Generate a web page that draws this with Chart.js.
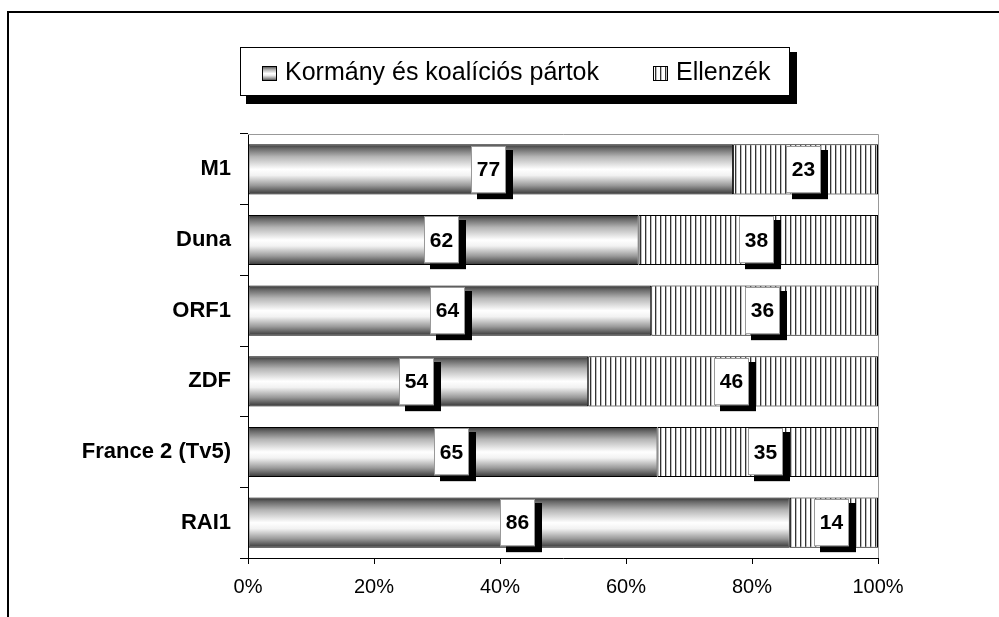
<!DOCTYPE html>
<html>
<head>
<meta charset="utf-8">
<script src="https://cdn.jsdelivr.net/npm/chart.js@4/dist/chart.umd.min.js"></script>
<style>
  html, body { margin: 0; padding: 0; background: #fff; }
  #wrap { width: 999px; height: 617px; }
</style>
</head>
<body>
<div id="wrap"><canvas id="barChart" width="999" height="617"></canvas></div>
<script>
const categories = ['M1', 'Duna', 'ORF1', 'ZDF', 'France 2 (Tv5)', 'RAI1'];
const kormany = [77, 62, 64, 54, 65, 86];
const ellenzek = [23, 38, 36, 46, 35, 14];
const seriesNames = ['Kormány és koalíciós pártok', 'Ellenzék'];
const xTicks = [0, 20, 40, 60, 80, 100];

const FONT = "'Liberation Sans', Arial, sans-serif";
const BAR_PCT = 0.71;

// vonalkázott minta
function makeHatch() {
    const c = document.createElement('canvas');
    c.width = 5; c.height = 8;
    const g = c.getContext('2d');
    g.fillStyle = '#fff';
    g.fillRect(0, 0, 5, 8);
    g.fillStyle = '#333';
    g.fillRect(0, 0, 1, 8);
    g.fillStyle = '#bdbdbd';
    g.fillRect(1, 0, 1, 8);
    return g.createPattern(c, 'repeat');
}

function addCylStops(gr) {
    gr.addColorStop(0, '#333');
    gr.addColorStop(0.08, '#666');
    gr.addColorStop(0.25, '#b5b5b5');
    gr.addColorStop(0.5, '#fff');
    gr.addColorStop(0.62, '#f2f2f2');
    gr.addColorStop(0.82, '#9a9a9a');
    gr.addColorStop(0.95, '#505050');
    gr.addColorStop(1, '#333');
    return gr;
}

const ctx = document.getElementById('barChart').getContext('2d');
const hatch = makeHatch();

function cylinderFill(c) {
    const chart = c.chart;
    const y = chart.scales.y;
    if (!y || !chart.chartArea) return '#aaa';
    const yc = y.getPixelForValue(c.dataIndex);
    const half = (y.height / categories.length) * BAR_PCT / 2;
    return addCylStops(chart.ctx.createLinearGradient(0, yc - half, 0, yc + half));
}

// keret, jelmagyarázat, plot-keret
const decorPlugin = {
    id: 'decor',
    beforeDatasetsDraw(chart) {
        const a = chart.chartArea;
        const g = chart.ctx;
        g.save();
        g.strokeStyle = '#999';
        g.lineWidth = 1;
        g.beginPath();
        g.moveTo(a.left, a.top + 0.5);
        g.lineTo(a.right + 0.5, a.top + 0.5);
        g.lineTo(a.right + 0.5, a.bottom);
        g.stroke();
        g.restore();
    },
    afterDraw(chart) {
        const g = chart.ctx;
        g.save();
        // külső keret
        g.fillStyle = '#000';
        g.fillRect(7, 11, 999, 2);
        g.fillRect(7, 11, 2, 617);

        // jelmagyarázat doboz
        const bx = 240, by = 47, bw = 549, bh = 48;
        g.fillRect(bx + 6, by + 6, bw + 2, bh + 3);
        g.fillRect(bx + bw, by + 5, 8, bh + 4);
        g.fillStyle = '#fff';
        g.fillRect(bx, by, bw, bh);
        g.strokeStyle = '#000';
        g.lineWidth = 1;
        g.strokeRect(bx + 0.5, by + 0.5, bw, bh);

        g.font = '25px ' + FONT;
        g.textBaseline = 'alphabetic';
        g.textAlign = 'left';
        const items = [
            { x: 262, fill: addCylStops(g.createLinearGradient(0, 66, 0, 81)) },
            { x: 653, fill: hatch }
        ];
        items.forEach((it, i) => {
            g.fillStyle = it.fill;
            g.fillRect(it.x, 66, 15, 15);
            g.strokeStyle = '#000';
            g.strokeRect(it.x + 0.5, 66.5, 14, 14);
            g.fillStyle = '#000';
            g.fillText(chart.data.datasets[i].label, it.x + 23, 80);
        });
        g.restore();
    }
};

// értékcímkék
const labelPlugin = {
    id: 'valueBoxes',
    afterDatasetsDraw(chart) {
        const g = chart.ctx;
        g.save();
        g.font = 'bold 21px ' + FONT;
        g.textAlign = 'center';
        g.textBaseline = 'middle';
        chart.data.datasets.forEach((ds, di) => {
            chart.getDatasetMeta(di).data.forEach((el, i) => {
                const cx = (el.x + el.base) / 2 - 2;
                const h = el.height - 3;
                const w = 35;
                const x0 = Math.round(cx - w / 2);
                const y0 = Math.round(el.y - h / 2);
                g.fillStyle = '#000';
                g.fillRect(x0 + 6, y0 + 4, w + 1, h + 2);
                g.fillStyle = '#fff';
                g.fillRect(x0, y0, w, h);
                g.strokeStyle = '#999';
                g.lineWidth = 1;
                g.strokeRect(x0 + 0.5, y0 + 0.5, w - 1, h - 1);
                g.fillStyle = '#000';
                g.fillText(String(ds.data[i]), x0 + w / 2, el.y + 1);
            });
        });
        g.restore();
    }
};

new Chart(ctx, {
    type: 'bar',
    data: {
        labels: categories,
        datasets: [{
            label: seriesNames[0],
            data: kormany,
            backgroundColor: cylinderFill,
            borderColor: '#000',
            borderWidth: 1,
            borderSkipped: false,
            barPercentage: BAR_PCT,
            categoryPercentage: 1
        }, {
            label: seriesNames[1],
            data: ellenzek,
            backgroundColor: hatch,
            borderColor: '#000',
            borderWidth: 1,
            borderSkipped: false,
            barPercentage: BAR_PCT,
            categoryPercentage: 1
        }]
    },
    options: {
        indexAxis: 'y',
        responsive: false,
        animation: false,
        layout: { padding: { top: 134, right: 121, bottom: 0, left: 0 } },
        plugins: {
            legend: { display: false },
            tooltip: { enabled: false }
        },
        scales: {
            x: {
                stacked: true,
                min: 0,
                max: 100,
                afterBuildTicks(scale) {
                    scale.ticks = xTicks.map(v => ({ value: v }));
                },
                afterFit(scale) { scale.height = 59; },
                ticks: {
                    callback: v => v + '%',
                    color: '#000',
                    font: { family: FONT, size: 20 },
                    padding: 11,
                    maxRotation: 0
                },
                grid: {
                    drawOnChartArea: false,
                    drawTicks: true,
                    tickLength: 6,
                    color: '#000'
                },
                border: { color: '#000', width: 1 }
            },
            y: {
                stacked: true,
                afterFit(scale) { scale.width = 248; },
                ticks: {
                    color: '#000',
                    font: { family: FONT, size: 22, weight: 'bold' },
                    padding: 9
                },
                grid: {
                    drawOnChartArea: false,
                    drawTicks: true,
                    tickLength: 8,
                    color: '#000',
                    offset: true
                },
                border: { color: '#000', width: 1 }
            }
        }
    },
    plugins: [decorPlugin, labelPlugin]
});
</script>
</body>
</html>
